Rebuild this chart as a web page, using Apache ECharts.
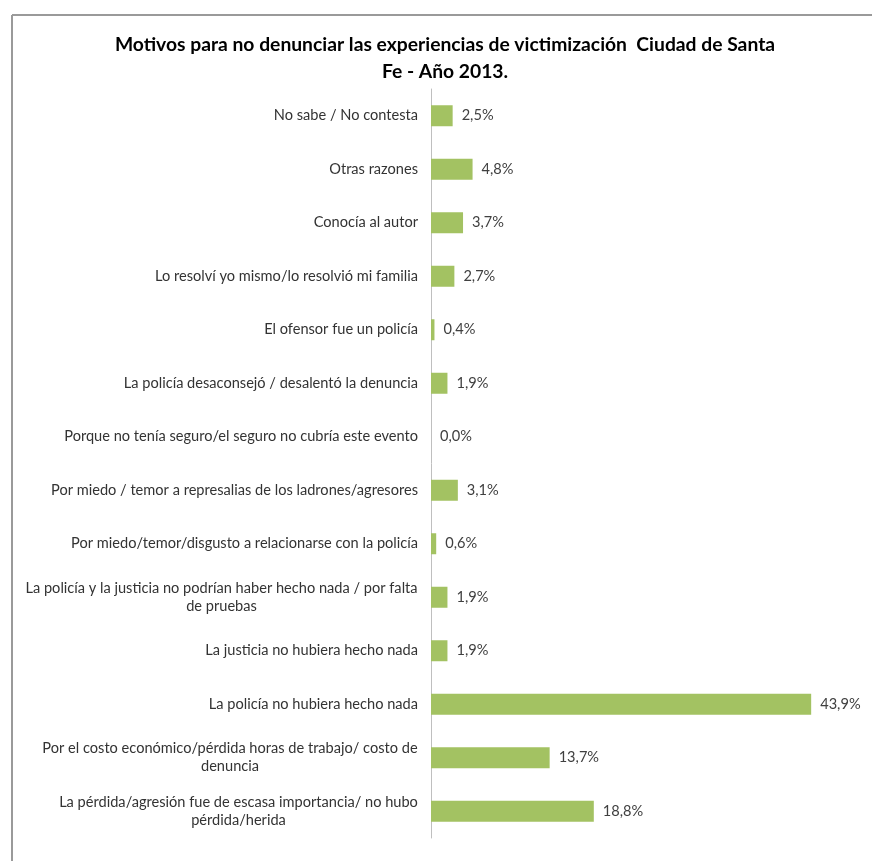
<!DOCTYPE html>
<html>
<head>
<meta charset="utf-8">
<script src="https://cdn.jsdelivr.net/npm/echarts@6/dist/echarts.min.js"></script>
<style>
  html, body { margin: 0; padding: 0; background: #ffffff; }
  #chart { width: 872px; height: 861px; }
</style>
</head>
<body>
<div id="chart"></div>
<script>
// Reasons (top to bottom); "\n" marks where long reasons wrap
const categories = [
  'No sabe / No contesta',
  'Otras razones',
  'Conocía al autor',
  'Lo resolví yo mismo/lo resolvió mi familia',
  'El ofensor fue un policía',
  'La policía desaconsejó / desalentó la denuncia',
  'Porque no tenía seguro/el seguro no cubría este evento',
  'Por miedo / temor a represalias de los ladrones/agresores',
  'Por miedo/temor/disgusto a relacionarse con la policía',
  'La policía y la justicia no podrían haber hecho nada / por falta\nde pruebas',
  'La justicia no hubiera hecho nada',
  'La policía no hubiera hecho nada',
  'Por el costo económico/pérdida horas de trabajo/ costo de\ndenuncia',
  'La pérdida/agresión fue de escasa importancia/ no hubo\npérdida/herida'
];
// Share of respondents (%)
const percentages = [2.5, 4.8, 3.7, 2.7, 0.4, 1.9, 0.0, 3.1, 0.6, 1.9, 1.9, 43.9, 13.7, 18.8];

const FONT = 'Lato';
const LABEL_SIZE = 14.6;

// Width of the widest line of each wrapped label, so the lines can be centred on each other
const measureCtx = document.createElement('canvas').getContext('2d');
measureCtx.font = LABEL_SIZE + 'px ' + FONT;
const rich = {};
categories.forEach(function (name, i) {
  if (name.indexOf('\n') >= 0) {
    const lines = name.split('\n');
    const w = Math.max.apply(null, lines.map(function (l) { return measureCtx.measureText(l).width; }));
    rich['w' + i] = { width: Math.ceil(w), align: 'center', fontFamily: FONT, fontSize: LABEL_SIZE, color: '#333333', lineHeight: 18 };
  }
});

const chart = echarts.init(document.getElementById('chart'));
chart.setOption({
  backgroundColor: '#ffffff',
  animation: false,
  title: {
    text: 'Motivos para no denunciar las experiencias de victimización  Ciudad de Santa\nFe - Año 2013.',
    left: 440,
    top: 26,
    textAlign: 'center',
    textStyle: { fontFamily: FONT, fontWeight: 'bold', fontSize: 19.3, color: '#000000', lineHeight: 27 }
  },
  graphic: [
    { type: 'line', shape: { x1: 12, y1: 15, x2: 872, y2: 15 }, style: { stroke: '#9a9a9a', lineWidth: 2 } },
    { type: 'line', shape: { x1: 12, y1: 15, x2: 12, y2: 861 }, style: { stroke: '#9a9a9a', lineWidth: 2 } }
  ],
  grid: { left: 431, right: 8, top: 89, bottom: 23, containLabel: false },
  xAxis: {
    type: 'value', min: 0, max: 50, show: false
  },
  yAxis: {
    type: 'category',
    data: categories,
    inverse: true,
    axisLine: { show: true, lineStyle: { color: '#bfbfbf', width: 1 } },
    axisTick: { show: false },
    axisLabel: {
      margin: 13,
      fontFamily: FONT,
      fontSize: LABEL_SIZE,
      color: '#333333',
      lineHeight: 18,
      interval: 0,
      rich: rich,
      formatter: function (value, idx) {
        if (value.indexOf('\n') >= 0) {
          return value.split('\n').map(function (l) { return '{w' + idx + '|' + l + '}'; }).join('\n');
        }
        return value;
      }
    }
  },
  series: [{
    type: 'bar',
    data: percentages,
    barWidth: 21,
    itemStyle: { color: '#a3c262' },
    label: {
      show: true,
      position: 'right',
      distance: 9,
      fontFamily: FONT,
      fontSize: 14.6,
      color: '#404040',
      formatter: function (p) { return p.value.toFixed(1).replace('.', ',') + '%'; }
    }
  }]
});
</script>
</body>
</html>
